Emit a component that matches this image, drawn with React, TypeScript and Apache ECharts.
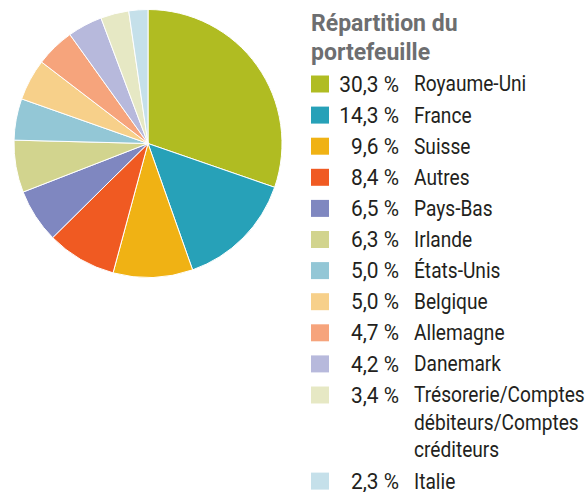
import React, { useEffect, useRef } from "react";
import * as echarts from "echarts";

const names = ["Royaume-Uni", "France", "Suisse", "Autres", "Pays-Bas", "Irlande", "États-Unis", "Belgique", "Allemagne", "Danemark", "Trésorerie/Comptes\ndébiteurs/Comptes\ncréditeurs", "Italie"];
const values = [30.3, 14.3, 9.6, 8.4, 6.5, 6.3, 5.0, 5.0, 4.7, 4.2, 3.4, 2.3];
const colors = ["#B0BC22", "#27A1B8", "#F0B214", "#F05A22", "#7F87C0", "#D2D48E", "#93C7D6", "#F7D08A", "#F6A47C", "#B7B9DC", "#E6E8C4", "#C5E0EA"];
const title = "Répartition du\nportefeuille";

const FONT = "Roboto, sans-serif";

export default function App() {
  const ref = useRef<HTMLDivElement>(null);
  useEffect(() => {
    if (!ref.current) return;
    const chart = echarts.init(ref.current, undefined, { renderer: "svg" });
    const graphics: any[] = [];
    graphics.push({
      type: "text",
      x: 311,
      y: 9,
      style: { text: title, font: `bold 23px ${FONT}`, fill: "#6D6E70", lineHeight: 29 },
    });
    let y = 84;
    names.forEach((n, i) => {
      const lines = n.split("\n").length;
      const lh = lines > 1 ? 27.5 : 20;
      graphics.push({ type: "rect", shape: { x: 311, y: y - 8.5, width: 18, height: 17 }, style: { fill: colors[i] } });
      graphics.push({
        type: "text", x: 399, y: y, scaleX: 0.95,
        style: { text: values[i].toFixed(1).replace(".", ",") + " %", font: `22px ${FONT}`, fill: "#231F20", align: "right", verticalAlign: "middle", lineHeight: 20 },
      });
      graphics.push({
        type: "text", x: 414, y: y - lh / 2, scaleX: 0.87,
        style: { text: n, font: `22px ${FONT}`, fill: "#231F20", align: "left", verticalAlign: "top", lineHeight: lh },
      });
      y += 31.1 + (lines - 1) * 27.5;
    });
    chart.setOption({
      animation: false,
      graphic: graphics,
      series: [{
        type: "pie",
        center: [148, 143.5],
        radius: 134,
        startAngle: 90,
        clockwise: true,
        label: { show: false },
        labelLine: { show: false },
        itemStyle: { borderColor: "#fff", borderWidth: 1 },
        emphasis: { disabled: true },
        data: names.map((n, i) => ({ name: n, value: values[i], itemStyle: { color: colors[i] } })),
      }],
    });
    return () => chart.dispose();
  }, []);
  return <div ref={ref} style={{ position: "fixed", left: 0, top: 0, width: 586, height: 492, background: "#fff" }} />;
}
